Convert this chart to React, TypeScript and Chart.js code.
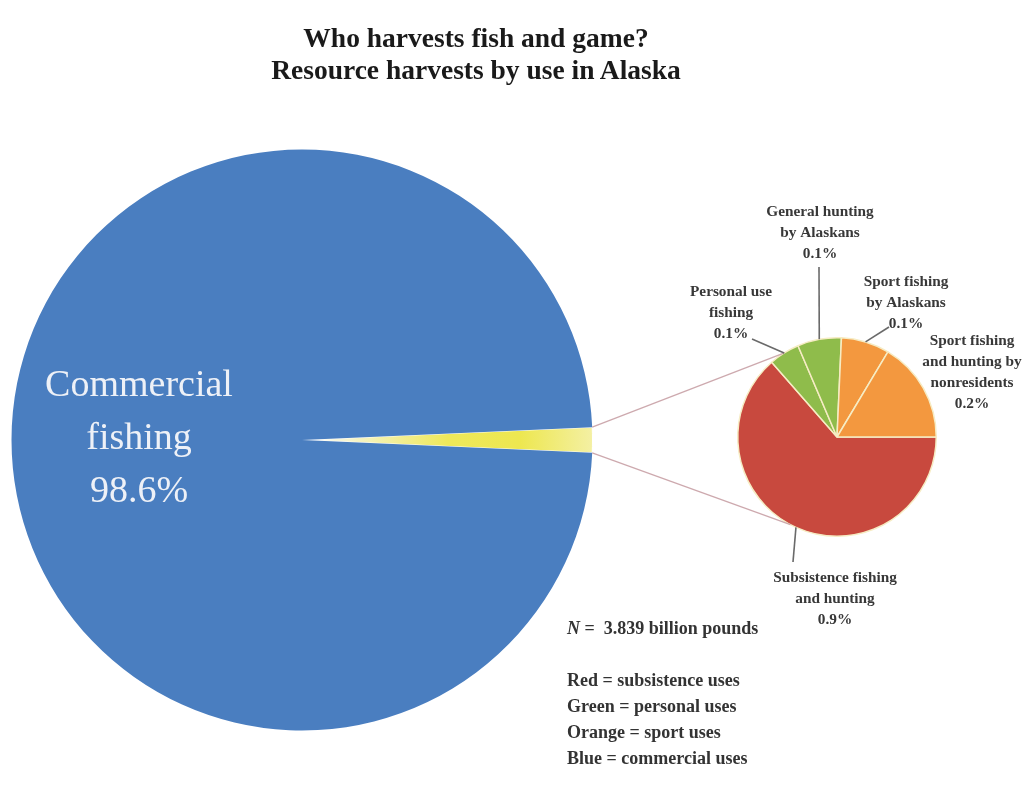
import React, { useEffect, useRef } from 'react';
import { Chart, registerables } from 'chart.js';

Chart.register(...registerables);

// ---------- data ----------
const titleLines = ['Who harvests fish and game?', 'Resource harvests by use in Alaska'];

const mainCategories = ['Other uses', 'Commercial fishing'];
const mainLabelLines = ['Commercial', 'fishing'];
const mainValues = [1.4, 98.6];
const mainColors = ['#f0ea5c', '#4a7ec0'];

const detailCategories = [
  'Subsistence fishing and hunting',
  'Personal use fishing',
  'General hunting by Alaskans',
  'Sport fishing by Alaskans',
  'Sport fishing and hunting by nonresidents',
];
const detailLabelLines = [
  ['Subsistence fishing', 'and hunting'],
  ['Personal use', 'fishing'],
  ['General hunting', 'by Alaskans'],
  ['Sport fishing', 'by Alaskans'],
  ['Sport fishing', 'and hunting by', 'nonresidents'],
];
const detailValues = [0.89, 0.07, 0.1, 0.11, 0.23];
const detailColors = ['#c8493e', '#8fbc4b', '#8fbc4b', '#f3983f', '#f3983f'];

const sampleSize = '3.839 billion pounds';
const colorKey = ['Red = subsistence uses', 'Green = personal uses', 'Orange = sport uses', 'Blue = commercial uses'];

// ---------- layout ----------
const W = 1029;
const H = 786;
const BIG = { cx: 302, cy: 440, r: 291 };
const SMALL = { cx: 837, cy: 437, r: 100 };
const detailLabelPos = [
  { x: 835, y: 578, lx: 793, ly: 562 },
  { x: 731, y: 292, lx: 752, ly: 339 },
  { x: 820, y: 212, lx: 819, ly: 267 },
  { x: 906, y: 282, lx: 889, ly: 327 },
  { x: 972, y: 341, lx: null as number | null, ly: null as number | null },
];
const connectorAnglesDeg = [238, 118];
const serif = '"Liberation Serif", "DejaVu Serif", serif';

function pct(v: number) {
  return `${v.toFixed(1)}%`;
}

const commercialLabelPlugin = {
  id: 'commercialLabel',
  afterDatasetsDraw(chart: any) {
    const arc = chart.getDatasetMeta(0).data[1];
    const { x, y } = arc.getProps(['x', 'y'], true);
    const ctx = chart.ctx;
    ctx.save();
    ctx.fillStyle = '#eef1f7';
    ctx.font = `38px ${serif}`;
    ctx.textAlign = 'center';
    ctx.textBaseline = 'middle';
    const lines = [...mainLabelLines, pct(mainValues[1])];
    lines.forEach((t, i) => ctx.fillText(t, x - 163, y - 54 + i * 53));
    ctx.restore();
  },
};

function makeOverlayPlugin(big: Chart) {
  return {
    id: 'detailOverlay',
    afterDatasetsDraw(chart: any) {
      const ctx = chart.ctx;
      const meta = chart.getDatasetMeta(0);
      const a0 = meta.data[0].getProps(['x', 'y', 'outerRadius'], true);
      const sx = a0.x, sy = a0.y, sr = a0.outerRadius;

      // connectors from the big pie's "other" wedge to the detail pie
      const bigArc = big.getDatasetMeta(0).data[0] as any;
      const b = bigArc.getProps(['x', 'y', 'startAngle', 'endAngle', 'outerRadius'], true);
      const from = [b.startAngle, b.endAngle].map((a: number) => [b.x + b.outerRadius * Math.cos(a), b.y + b.outerRadius * Math.sin(a)]);
      ctx.save();
      ctx.strokeStyle = 'rgba(200,160,165,0.9)';
      ctx.lineWidth = 1.3;
      connectorAnglesDeg.forEach((deg, i) => {
        const a = (deg * Math.PI) / 180;
        ctx.beginPath();
        ctx.moveTo(from[i][0], from[i][1]);
        ctx.lineTo(sx + sr * Math.cos(a), sy + sr * Math.sin(a));
        ctx.stroke();
      });

      // leader lines and labels
      ctx.strokeStyle = '#6a6a6a';
      ctx.lineWidth = 1.6;
      ctx.fillStyle = '#383838';
      ctx.font = `bold 15.3px ${serif}`;
      ctx.textAlign = 'center';
      ctx.textBaseline = 'middle';
      meta.data.forEach((el: any, i: number) => {
        const p = el.getProps(['x', 'y', 'startAngle', 'endAngle', 'outerRadius'], true);
        const pos = detailLabelPos[i];
        if (pos.lx !== null && pos.ly !== null) {
          const mid = (p.startAngle + p.endAngle) / 2;
          ctx.beginPath();
          ctx.moveTo(p.x + p.outerRadius * Math.cos(mid), p.y + p.outerRadius * Math.sin(mid));
          ctx.lineTo(pos.lx, pos.ly);
          ctx.stroke();
        }
        const lines = [...detailLabelLines[i], pct(detailValues[i])];
        lines.forEach((t, j) => ctx.fillText(t, pos.x, pos.y + j * 21));
      });
      ctx.restore();
    },
  };
}

export default function App() {
  const bigRef = useRef<HTMLCanvasElement>(null);
  const smallRef = useRef<HTMLCanvasElement>(null);

  useEffect(() => {
    const yellowFill = (c: any) => {
      if (c.dataIndex !== 0) return mainColors[c.dataIndex];
      const area = c.chart.chartArea;
      if (!area) return mainColors[0];
      const cx = (area.left + area.right) / 2;
      const cy = (area.top + area.bottom) / 2;
      const r = Math.min(area.right - area.left, area.bottom - area.top) / 2;
      const g = c.chart.ctx.createRadialGradient(cx, cy, 0, cx, cy, r);
      g.addColorStop(0, '#ffffff');
      g.addColorStop(0.15, '#f7f5d2');
      g.addColorStop(0.5, '#eee85a');
      g.addColorStop(0.75, '#ede750');
      g.addColorStop(1, '#f4f0a4');
      return g;
    };

    const big = new Chart(bigRef.current as HTMLCanvasElement, {
      type: 'pie',
      data: {
        labels: mainCategories,
        datasets: [
          {
            data: mainValues,
            backgroundColor: yellowFill as any,
            borderColor: '#ffffff',
            borderWidth: [1, 0],
          },
        ],
      },
      options: {
        responsive: false,
        animation: false,
        rotation: 90 - (mainValues[0] / (mainValues[0] + mainValues[1])) * 180,
        layout: {
          padding: {
            left: BIG.cx - BIG.r,
            right: W - (BIG.cx + BIG.r),
            top: BIG.cy - BIG.r,
            bottom: H - (BIG.cy + BIG.r),
          },
        },
        plugins: {
          legend: { display: false },
          tooltip: { enabled: false },
          title: { display: false },
        },
      },
      plugins: [commercialLabelPlugin],
    });

    const small = new Chart(smallRef.current as HTMLCanvasElement, {
      type: 'pie',
      data: {
        labels: detailCategories,
        datasets: [
          {
            data: detailValues,
            backgroundColor: detailColors,
            borderColor: '#f6ecc4',
            borderWidth: 1.5,
          },
        ],
      },
      options: {
        responsive: false,
        animation: false,
        rotation: 90,
        layout: {
          padding: {
            left: SMALL.cx - SMALL.r,
            right: W - (SMALL.cx + SMALL.r),
            top: SMALL.cy - SMALL.r,
            bottom: H - (SMALL.cy + SMALL.r),
          },
        },
        plugins: {
          legend: { display: false },
          tooltip: { enabled: false },
          title: { display: false },
        },
      },
      plugins: [makeOverlayPlugin(big)],
    });

    return () => {
      small.destroy();
      big.destroy();
    };
  }, []);

  const abs: React.CSSProperties = { position: 'absolute', left: 0, top: 0 };

  return (
    <div style={{ position: 'absolute', left: 0, top: 0, width: W, height: H, background: '#ffffff', overflow: 'hidden' }}>
      <canvas ref={bigRef} width={W} height={H} style={{ ...abs, width: W, height: H }} />
      <canvas ref={smallRef} width={W} height={H} style={{ ...abs, width: W, height: H }} />
      <div
        style={{
          position: 'absolute',
          left: 0,
          top: 22,
          width: 952,
          textAlign: 'center',
          fontFamily: serif,
          fontWeight: 'bold',
          fontSize: 27.5,
          lineHeight: '32px',
          color: '#1a1a1a',
        }}
      >
        {titleLines.map((t) => (
          <div key={t}>{t}</div>
        ))}
      </div>
      <div
        style={{
          position: 'absolute',
          left: 567,
          top: 615,
          fontFamily: serif,
          fontWeight: 'bold',
          fontSize: 18,
          lineHeight: '26px',
          color: '#333333',
          whiteSpace: 'nowrap',
        }}
      >
        <div>
          <i>N</i> =&nbsp; {sampleSize}
        </div>
        <div style={{ height: 26 }} />
        {colorKey.map((t) => (
          <div key={t}>{t}</div>
        ))}
      </div>
    </div>
  );
}
